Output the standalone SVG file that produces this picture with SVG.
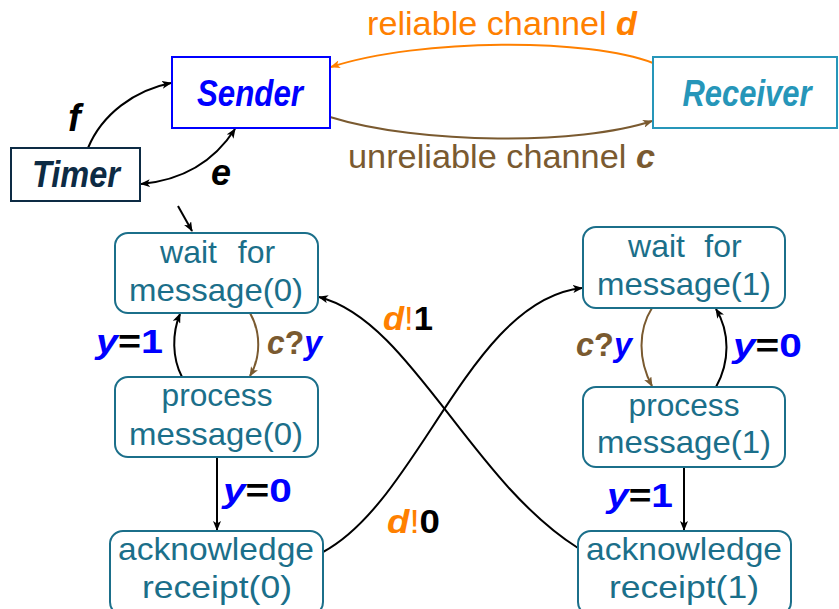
<svg xmlns="http://www.w3.org/2000/svg" width="839" height="609" viewBox="0 0 839 609">
<style>
text{font-family:"Liberation Sans","DejaVu Sans",sans-serif}
.node rect{fill:#fff;stroke:#1b6f8a;stroke-width:2}
.node text{fill:#1b6f8a;font-size:32px;text-anchor:middle}
.bi{font-weight:bold;font-style:italic}
.b{font-weight:bold}
.lbl{font-size:34px}
.blue{fill:#0000ff}
.brown{fill:#7a5a30}
.orange{fill:#ff8000}
.blk{fill:#000}
.e{fill:none;stroke:#000;stroke-width:2}
</style>
<defs>
<marker id="ak" viewBox="0 0 10 8" refX="9" refY="4" markerWidth="10" markerHeight="8" markerUnits="userSpaceOnUse" orient="auto-start-reverse"><path d="M0,0 L10,4 L0,8 L2.5,4 z" fill="#000"/></marker>
<marker id="ao" viewBox="0 0 10 8" refX="9" refY="4" markerWidth="10" markerHeight="8" markerUnits="userSpaceOnUse" orient="auto"><path d="M0,0 L10,4 L0,8 L2.5,4 z" fill="#ff8000"/></marker>
<marker id="ab" viewBox="0 0 10 8" refX="9" refY="4" markerWidth="10" markerHeight="8" markerUnits="userSpaceOnUse" orient="auto"><path d="M0,0 L10,4 L0,8 L2.5,4 z" fill="#7a5a30"/></marker>
</defs>
<rect width="839" height="609" fill="#fff"/>

<g id="connectors">
<path class="e" d="M88,148 C102,114 135,90 171,83" marker-end="url(#ak)"/>
<path class="e" d="M235,129 C215,160 185,180 141,184" marker-start="url(#ak)" marker-end="url(#ak)"/>
<path class="e" d="M178,206 L192,231" marker-end="url(#ak)"/>
<path fill="none" stroke="#ff8000" stroke-width="2" d="M653,63 C590,38 420,38 331,67" marker-end="url(#ao)"/>
<path fill="none" stroke="#7a5a30" stroke-width="2" d="M330,117 C420,145 580,145 652,121" marker-end="url(#ab)"/>
<path class="e" d="M182,377 C172,358 172,333 180,314" marker-end="url(#ak)"/>
<path fill="none" stroke="#7a5a30" stroke-width="2" d="M250,313 C261,332 261,357 250,376" marker-end="url(#ab)"/>
<path class="e" d="M217,457 L217,530" marker-end="url(#ak)"/>
<path fill="none" stroke="#7a5a30" stroke-width="2" d="M652,308 C638,330 638,360 652,386" marker-end="url(#ab)"/>
<path class="e" d="M716,387 C730,362 730,332 716,309" marker-end="url(#ak)"/>
<path class="e" d="M684,467 L684,530" marker-end="url(#ak)"/>
<path class="e" d="M323,552 C420,500 470,300 582,288" marker-end="url(#ak)"/>
<path class="e" d="M578,548 C470,480 410,320 319,297" marker-end="url(#ak)"/>
</g>

<g id="labels">
<text x="367" y="35" class="orange" style="font-size:33px" textLength="270" lengthAdjust="spacingAndGlyphs">reliable channel <tspan class="bi">d</tspan></text>
<text x="348" y="168" class="brown" style="font-size:33px" textLength="307" lengthAdjust="spacingAndGlyphs">unreliable channel <tspan class="bi">c</tspan></text>
<text x="68" y="131" class="bi blk" style="font-size:38px">f</text>
<text x="211" y="185" class="bi blk" style="font-size:36px">e</text>
<text x="96" y="353" class="lbl b" textLength="67" lengthAdjust="spacingAndGlyphs"><tspan class="bi blue">y</tspan><tspan class="blk">=</tspan><tspan class="blue">1</tspan></text>
<text x="267" y="354" class="lbl b" textLength="55" lengthAdjust="spacingAndGlyphs"><tspan class="bi brown">c</tspan><tspan class="brown">?</tspan><tspan class="bi blue">y</tspan></text>
<text x="223" y="502" class="lbl b" textLength="69" lengthAdjust="spacingAndGlyphs"><tspan class="bi blue">y</tspan><tspan class="blk">=</tspan><tspan class="blue">0</tspan></text>
<text x="576" y="356" class="lbl b" textLength="56" lengthAdjust="spacingAndGlyphs"><tspan class="bi brown">c</tspan><tspan class="brown">?</tspan><tspan class="bi blue">y</tspan></text>
<text x="733" y="357" class="lbl b" textLength="69" lengthAdjust="spacingAndGlyphs"><tspan class="bi blue">y</tspan><tspan class="blk">=</tspan><tspan class="blue">0</tspan></text>
<text x="607" y="507" class="lbl b" textLength="66" lengthAdjust="spacingAndGlyphs"><tspan class="bi blue">y</tspan><tspan class="blk">=</tspan><tspan class="blue">1</tspan></text>
<text x="383" y="330" class="lbl" textLength="50" lengthAdjust="spacingAndGlyphs"><tspan class="bi orange">d</tspan><tspan class="orange">!</tspan><tspan class="b blk">1</tspan></text>
<text x="387" y="533" class="lbl" textLength="53" lengthAdjust="spacingAndGlyphs"><tspan class="bi orange">d</tspan><tspan class="orange">!</tspan><tspan class="b blk">0</tspan></text>
</g>

<g id="sender"><rect x="172" y="57" width="158" height="71" fill="#fff" stroke="#0000ff" stroke-width="2"/><text x="250" y="106" class="bi blue" style="font-size:36px" text-anchor="middle" textLength="106" lengthAdjust="spacingAndGlyphs">Sender</text></g>
<g id="receiver"><rect x="653" y="57" width="184" height="71" fill="#fff" stroke="#2696b9" stroke-width="2"/><text x="747" y="106" class="bi" fill="#2696b9" style="font-size:36px" text-anchor="middle" textLength="129" lengthAdjust="spacingAndGlyphs">Receiver</text></g>
<g id="timer"><rect x="11" y="148" width="129" height="53" fill="#fff" stroke="#0d2b44" stroke-width="2"/><text x="76" y="187" class="bi" fill="#0d2b44" style="font-size:36px" text-anchor="middle" textLength="88" lengthAdjust="spacingAndGlyphs">Timer</text></g>

<g id="wait0" class="node"><rect x="115" y="233" width="203" height="80" rx="13"/><text y="263"><tspan x="188.5">wait</tspan><tspan x="256.5">for</tspan></text><text x="216" y="301" textLength="174" lengthAdjust="spacingAndGlyphs">message(0)</text></g>
<g id="process0" class="node"><rect x="115" y="377" width="203" height="80" rx="13"/><text x="217" y="406" textLength="111" lengthAdjust="spacingAndGlyphs">process</text><text x="216" y="445" textLength="174" lengthAdjust="spacingAndGlyphs">message(0)</text></g>
<g id="ack0" class="node"><rect x="110" y="531" width="213" height="84" rx="13"/><text x="216" y="560" textLength="196" lengthAdjust="spacingAndGlyphs">acknowledge</text><text x="217" y="598" textLength="150" lengthAdjust="spacingAndGlyphs">receipt(0)</text></g>
<g id="wait1" class="node"><rect x="583" y="227" width="202" height="81" rx="13"/><text y="257"><tspan x="656.5">wait</tspan><tspan x="723">for</tspan></text><text x="684" y="295" textLength="174" lengthAdjust="spacingAndGlyphs">message(1)</text></g>
<g id="process1" class="node"><rect x="583" y="387" width="202" height="80" rx="13"/><text x="684" y="416" textLength="111" lengthAdjust="spacingAndGlyphs">process</text><text x="684" y="453" textLength="174" lengthAdjust="spacingAndGlyphs">message(1)</text></g>
<g id="ack1" class="node"><rect x="578" y="531" width="213" height="84" rx="13"/><text x="684" y="560" textLength="196" lengthAdjust="spacingAndGlyphs">acknowledge</text><text x="684" y="598" textLength="150" lengthAdjust="spacingAndGlyphs">receipt(1)</text></g>
</svg>
